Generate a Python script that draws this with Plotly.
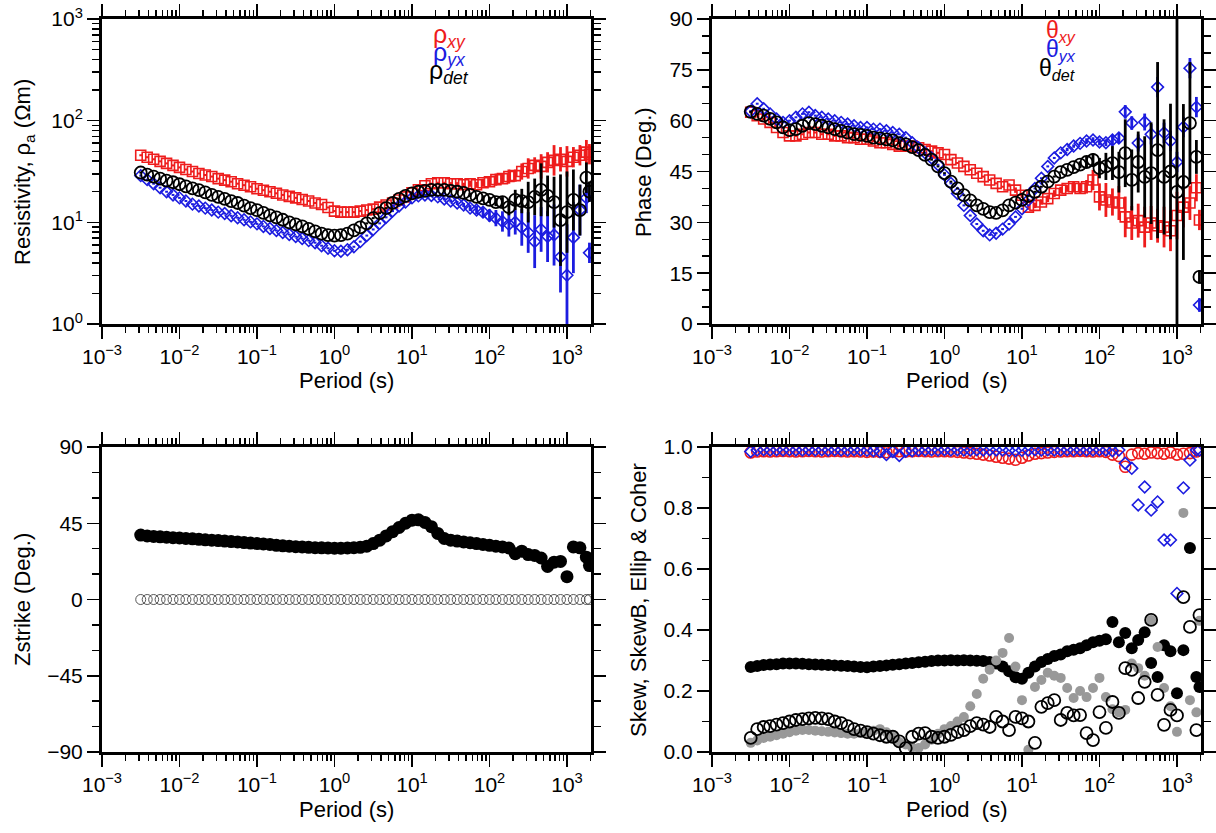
import plotly.graph_objects as go

# ---------------- data ----------------
PERIOD = [0.00316, 0.00383, 0.00464, 0.00562, 0.00681, 0.00825, 0.0100, 0.0121, 0.0147, 0.0178,
          0.0215, 0.0261, 0.0316, 0.0383, 0.0464, 0.0562, 0.0681, 0.0825, 0.100, 0.121,
          0.147, 0.178, 0.215, 0.261, 0.316, 0.383, 0.464, 0.562, 0.681, 0.825,
          1.00, 1.21, 1.47, 1.78, 2.15, 2.61, 3.16, 3.83, 4.64, 5.62,
          6.81, 8.25, 10.0, 12.1, 14.7, 17.8, 21.5, 26.1, 31.6, 38.3,
          46.4, 56.2, 68.1, 82.5, 100, 121, 147, 178, 215, 261,
          316, 383, 464, 562, 681, 825, 1000, 1210, 1470, 1780,
          1950]

RHO_XY = [45.7, 43.7, 41.7, 39.8, 38.0, 36.3, 34.7, 33.1, 31.6, 30.2,
          29.2, 28.2, 26.9, 26.0, 25.1, 24.0, 23.2, 22.4, 21.4, 20.7,
          20.0, 19.3, 18.6, 18.0, 17.4, 16.8, 16.2, 15.5, 15.0, 14.0,
          12.9, 12.6, 12.6, 12.6, 12.9, 13.2, 13.5, 14.1, 14.8, 15.5,
          16.6, 17.8, 19.5, 20.9, 22.9, 24.0, 24.5, 24.5, 24.0, 24.0,
          23.4, 24.0, 23.4, 24.5, 25.1, 26.3, 26.9, 28.2, 28.8, 31.6,
          33.9, 36.3, 35.5, 38.9, 40.7, 41.7, 39.8, 43.7, 45.7, 49.0,
          46.8]
RHO_XY_ERR = [0.01, 0.01, 0.01, 0.01, 0.01, 0.01, 0.01, 0.01, 0.01, 0.01,
              0.01, 0.01, 0.01, 0.01, 0.01, 0.01, 0.01, 0.01, 0.01, 0.01,
              0.01, 0.01, 0.01, 0.01, 0.01, 0.01, 0.01, 0.01, 0.01, 0.01,
              0.01, 0.01, 0.01, 0.01, 0.01, 0.01, 0.01, 0.01, 0.01, 0.01,
              0.01, 0.01, 0.01, 0.01, 0.01, 0.01, 0.01, 0.01, 0.015, 0.015,
              0.02, 0.03, 0.03, 0.04, 0.05, 0.06, 0.05, 0.07, 0.06, 0.08,
              0.10, 0.08, 0.12, 0.10, 0.15, 0.12, 0.15, 0.10, 0.10, 0.12,
              0.10]

RHO_YX = [28.8, 26.3, 24.0, 21.9, 20.0, 18.6, 17.4, 16.2, 15.1, 14.5,
          13.8, 13.2, 12.6, 12.2, 11.6, 11.1, 10.6, 10.1, 9.66, 9.12,
          8.71, 8.32, 7.94, 7.59, 7.24, 6.92, 6.61, 6.31, 5.89, 5.56,
          5.25, 5.19, 5.37, 5.75, 6.46, 7.41, 8.51, 9.77, 11.2, 12.9,
          14.5, 15.8, 17.4, 18.2, 18.6, 18.4, 17.8, 17.0, 16.2, 15.5,
          14.8, 13.8, 13.2, 12.6, 11.7, 11.0, 10.2, 9.55, 10.0, 8.91,
          7.94, 6.46, 8.51, 7.24, 7.50, 4.57, 3.02, 7.08, 13.2, 17.4,
          5.01]
RHO_YX_ERR = [0.01, 0.01, 0.01, 0.01, 0.01, 0.01, 0.01, 0.01, 0.01, 0.01,
              0.01, 0.01, 0.01, 0.01, 0.01, 0.01, 0.01, 0.01, 0.01, 0.01,
              0.01, 0.01, 0.01, 0.01, 0.01, 0.01, 0.01, 0.01, 0.01, 0.01,
              0.01, 0.01, 0.01, 0.01, 0.01, 0.01, 0.01, 0.01, 0.01, 0.01,
              0.01, 0.01, 0.01, 0.01, 0.01, 0.01, 0.01, 0.015, 0.015, 0.02,
              0.02, 0.03, 0.04, 0.05, 0.06, 0.08, 0.10, 0.12, 0.12, 0.18,
              0.20, 0.26, 0.22, 0.25, 0.30, 0.35, 0.50, 0.35, 0.25, 0.15,
              0.10]

RHO_DET = [30.9, 29.5, 28.2, 26.9, 25.7, 24.8, 23.7, 22.6, 21.6, 20.7,
           19.7, 18.6, 17.8, 17.0, 16.2, 15.5, 14.6, 13.8, 13.2, 12.4,
           11.7, 11.2, 10.6, 10.0, 9.55, 9.12, 8.61, 8.13, 7.76, 7.50,
           7.41, 7.50, 7.76, 8.32, 8.91, 9.77, 11.0, 12.3, 13.8, 15.5,
           17.0, 18.2, 19.3, 20.0, 20.4, 20.9, 20.9, 20.9, 20.4, 20.0,
           19.5, 18.6, 17.8, 17.2, 16.6, 15.8, 15.8, 14.1, 16.6, 16.2,
           15.8, 17.8, 20.9, 18.2, 15.8, 10.5, 12.6, 16.6, 13.2, 27.5,
           20.0]
RHO_DET_ERR = [0.01, 0.01, 0.01, 0.01, 0.01, 0.01, 0.01, 0.01, 0.01, 0.01,
               0.01, 0.01, 0.01, 0.01, 0.01, 0.01, 0.01, 0.01, 0.01, 0.01,
               0.01, 0.01, 0.01, 0.01, 0.01, 0.01, 0.01, 0.01, 0.01, 0.01,
               0.01, 0.01, 0.01, 0.01, 0.01, 0.01, 0.01, 0.01, 0.01, 0.01,
               0.01, 0.01, 0.01, 0.01, 0.01, 0.01, 0.01, 0.01, 0.01, 0.01,
               0.015, 0.02, 0.02, 0.03, 0.03, 0.04, 0.05, 0.08, 0.10, 0.12,
               0.20, 0.18, 0.26, 0.20, 0.25, 0.45, 0.40, 0.30, 0.25, 0.15,
               0.10]

PHASE_XY = [62.5, 61.5, 60.5, 59.5, 58.0, 56.5, 55.5, 55.5, 56.0, 56.5,
            56.5, 56.0, 56.0, 55.5, 55.5, 55.0, 55.0, 54.5, 54.5, 54.0,
            53.5, 53.5, 53.0, 52.5, 52.5, 52.5, 52.0, 51.5, 51.0, 50.5,
            50.0, 48.5, 47.5, 46.5, 45.5, 44.5, 43.5, 42.5, 41.5, 40.5,
            41.0, 39.5, 38.0, 34.5, 35.0, 36.0, 37.0, 38.5, 39.5, 40.0,
            40.5, 40.0, 40.5, 42.5, 37.5, 36.6, 36.0, 35.7, 31.6, 29.8,
            30.5, 28.6, 29.8, 29.0, 28.6, 27.5, 32.0, 34.5, 35.7, 40.2,
            30.7]
PHASE_XY_ERR = [0.3, 0.3, 0.3, 0.3, 0.3, 0.3, 0.3, 0.3, 0.3, 0.3,
                0.3, 0.3, 0.3, 0.3, 0.3, 0.3, 0.3, 0.3, 0.3, 0.3,
                0.3, 0.3, 0.3, 0.3, 0.3, 0.3, 0.3, 0.3, 0.3, 0.3,
                0.3, 0.3, 0.3, 0.3, 0.3, 0.3, 0.3, 0.3, 0.3, 0.3,
                0.5, 0.8, 0.8, 0.8, 0.8, 0.8, 1.0, 1.0, 1.0, 1.0,
                1.5, 1.5, 2.0, 3.0, 4.0, 5.0, 4.0, 5.0, 6.0, 5.0,
                5.0, 6.0, 5.0, 5.0, 6.0, 6.0, 7.0, 6.0, 5.0, 4.0,
                3.0]

PHASE_YX = [62.8, 65.0, 63.5, 62.0, 60.5, 59.5, 60.0, 61.0, 62.0, 62.5,
            61.5, 61.0, 60.5, 60.0, 59.5, 59.0, 58.5, 58.0, 58.0, 57.5,
            57.5, 57.0, 56.5, 56.0, 55.0, 53.5, 52.0, 50.5, 49.0, 47.0,
            44.0, 41.5, 38.5, 35.0, 32.0, 29.5, 27.5, 26.3, 26.8, 28.0,
            29.5, 31.6, 34.0, 36.6, 40.0, 43.0, 46.5, 49.0, 50.5, 51.5,
            52.5, 53.3, 54.0, 54.3, 53.7, 53.5, 54.3, 54.9, 62.6, 59.3,
            53.4, 59.6, 56.0, 69.9, 56.4, 54.0, 47.8, 58.1, 75.5, 64.0,
            5.6]
PHASE_YX_ERR = [0.3, 0.3, 0.3, 0.3, 0.3, 0.3, 0.3, 0.3, 0.3, 0.3,
                0.3, 0.3, 0.3, 0.3, 0.3, 0.3, 0.3, 0.3, 0.3, 0.3,
                0.3, 0.3, 0.3, 0.3, 0.3, 0.3, 0.3, 0.3, 0.3, 0.3,
                0.3, 0.3, 0.3, 0.3, 0.3, 0.3, 0.3, 0.3, 0.3, 0.3,
                0.3, 0.3, 0.3, 0.3, 0.3, 0.3, 0.3, 0.3, 0.3, 0.5,
                0.5, 0.5, 0.8, 0.8, 1.0, 1.0, 1.5, 1.5, 2.0, 2.0,
                2.5, 2.5, 3.0, 3.0, 3.0, 3.0, 3.0, 3.0, 3.0, 3.0,
                2.0]

PHASE_DET = [62.6, 62.0, 61.5, 60.5, 59.5, 58.0, 57.2, 57.5, 58.5, 59.3,
             59.0, 58.5, 58.0, 57.5, 57.0, 56.5, 56.0, 55.8, 55.5, 55.0,
             54.8, 54.5, 54.2, 53.4, 53.0, 52.2, 51.3, 49.9, 48.5, 46.5,
             44.5, 42.0, 40.0, 38.0, 36.5, 35.0, 34.0, 33.0, 32.8, 33.5,
             35.0, 35.8, 36.6, 37.8, 39.0, 40.5, 42.0, 43.5, 44.8, 45.5,
             46.3, 47.0, 47.8, 48.4, 46.0, 46.5, 47.5, 44.8, 50.4, 42.5,
             47.8, 43.4, 44.5, 51.3, 43.4, 45.0, 39.0, 41.9, 59.3, 49.3,
             13.9]
PHASE_DET_ERR = [0.3, 0.3, 0.3, 0.3, 0.3, 0.3, 0.3, 0.3, 0.3, 0.3,
                 0.3, 0.3, 0.3, 0.3, 0.3, 0.3, 0.3, 0.3, 0.3, 0.3,
                 0.3, 0.3, 0.3, 0.3, 0.3, 0.3, 0.3, 0.3, 0.3, 0.3,
                 0.3, 0.3, 0.3, 0.3, 0.3, 0.3, 0.3, 0.3, 0.3, 0.3,
                 0.3, 0.3, 0.3, 0.3, 0.3, 0.3, 0.3, 0.3, 0.3, 0.5,
                 0.8, 1.0, 1.5, 2.0, 3.0, 4.0, 5.0, 6.0, 10.0, 9.0,
                 9.0, 12.0, 15.0, 26.0, 17.0, 20.0, 120.0, 23.0, 18.0, 5.0,
                 2.0]

ZSTRIKE = [38.0, 37.5, 37.2, 37.0, 36.8, 36.5, 36.3, 36.0, 35.8, 35.5,
           35.2, 35.0, 34.8, 34.5, 34.2, 34.0, 33.6, 33.3, 33.0, 32.8,
           32.5, 32.0, 31.7, 31.5, 31.2, 31.0, 30.8, 30.6, 30.5, 30.4,
           30.3, 30.3, 30.4, 30.6, 30.8, 31.5, 33.0, 35.0, 37.5, 40.0,
           42.5, 45.0, 46.8, 47.0, 45.5, 43.0, 39.0, 36.0, 35.0, 34.5,
           34.0, 33.5, 33.0, 32.5, 32.0, 31.5, 31.0, 30.4, 27.0, 28.5,
           26.5, 26.0, 24.5, 19.5, 22.0, 22.5, 13.5, 31.0, 30.5, 25.0,
           20.0]
ZSTRIKE_REF = [0, 0, 0, 0, 0, 0, 0, 0, 0, 0,
               0, 0, 0, 0, 0, 0, 0, 0, 0, 0,
               0, 0, 0, 0, 0, 0, 0, 0, 0, 0,
               0, 0, 0, 0, 0, 0, 0, 0, 0, 0,
               0, 0, 0, 0, 0, 0, 0, 0, 0, 0,
               0, 0, 0, 0, 0, 0, 0, 0, 0, 0,
               0, 0, 0, 0, 0, 0, 0, 0, 0, 0,
               0]

COH_XY = [0.982, 0.985, 0.986, 0.985, 0.986, 0.987, 0.986, 0.985, 0.986, 0.987,
          0.986, 0.985, 0.986, 0.987, 0.986, 0.985, 0.986, 0.985, 0.984, 0.985,
          0.984, 0.983, 0.985, 0.986, 0.985, 0.986, 0.987, 0.986, 0.985, 0.986,
          0.986, 0.985, 0.984, 0.982, 0.980, 0.978, 0.975, 0.972, 0.968, 0.965,
          0.962, 0.958, 0.965, 0.972, 0.978, 0.980, 0.982, 0.984, 0.985, 0.986,
          0.986, 0.987, 0.986, 0.985, 0.986, 0.984, 0.975, 0.970, 0.935, 0.975,
          0.980, 0.978, 0.982, 0.980, 0.978, 0.982, 0.975, 0.978, 0.980, 0.985,
          0.990]
COH_YX = [0.985, 0.990, 0.991, 0.990, 0.991, 0.990, 0.991, 0.990, 0.990, 0.991,
          0.990, 0.991, 0.990, 0.991, 0.990, 0.990, 0.991, 0.990, 0.989, 0.988,
          0.985, 0.975, 0.985, 0.972, 0.986, 0.988, 0.990, 0.990, 0.991, 0.990,
          0.991, 0.990, 0.991, 0.990, 0.990, 0.991, 0.990, 0.991, 0.990, 0.990,
          0.989, 0.988, 0.989, 0.990, 0.991, 0.990, 0.991, 0.990, 0.990, 0.991,
          0.990, 0.991, 0.990, 0.990, 0.991, 0.990, 0.988, 0.990, 0.947, 0.930,
          0.810, 0.869, 0.793, 0.820, 0.695, 0.695, 0.520, 0.866, 0.957, 0.990,
          0.990]
SKEW = [0.279, 0.282, 0.285, 0.287, 0.288, 0.290, 0.290, 0.290, 0.289, 0.288,
        0.287, 0.286, 0.285, 0.284, 0.283, 0.282, 0.280, 0.279, 0.278, 0.280,
        0.282, 0.284, 0.286, 0.288, 0.290, 0.292, 0.294, 0.296, 0.298, 0.300,
        0.300, 0.301, 0.300, 0.301, 0.300, 0.299, 0.298, 0.295, 0.290, 0.280,
        0.265, 0.245, 0.240, 0.260, 0.280, 0.295, 0.305, 0.315, 0.320, 0.330,
        0.335, 0.340, 0.350, 0.360, 0.365, 0.370, 0.426, 0.360, 0.390, 0.340,
        0.367, 0.393, 0.292, 0.246, 0.350, 0.330, 0.193, 0.334, 0.669, 0.246,
        0.213]
SKEW_B = [0.030, 0.038, 0.046, 0.050, 0.055, 0.060, 0.065, 0.070, 0.072, 0.072,
          0.070, 0.068, 0.066, 0.064, 0.062, 0.060, 0.060, 0.062, 0.065, 0.070,
          0.075, 0.065, 0.050, 0.033, 0.025, 0.015, 0.013, 0.025, 0.040, 0.060,
          0.075, 0.085, 0.100, 0.115, 0.150, 0.190, 0.240, 0.270, 0.300, 0.325,
          0.374, 0.280, 0.170, 0.007, 0.213, 0.236, 0.260, 0.250, 0.243, 0.210,
          0.177, 0.200, 0.180, 0.210, 0.243, 0.180, 0.140, 0.130, 0.138, 0.290,
          0.275, 0.250, 0.433, 0.344, 0.210, 0.150, 0.066, 0.784, 0.170, 0.130,
          0.430]
ELLIP = [0.046, 0.075, 0.082, 0.085, 0.090, 0.095, 0.100, 0.105, 0.108, 0.110,
         0.112, 0.110, 0.108, 0.100, 0.095, 0.085, 0.075, 0.070, 0.065, 0.060,
         0.055, 0.050, 0.050, 0.035, 0.013, 0.050, 0.060, 0.062, 0.050, 0.046,
         0.050, 0.056, 0.065, 0.072, 0.085, 0.095, 0.090, 0.082, 0.115, 0.100,
         0.072, 0.115, 0.110, 0.100, 0.030, 0.148, 0.160, 0.170, 0.105, 0.128,
         0.120, 0.121, 0.062, 0.039, 0.131, 0.079, 0.164, 0.128, 0.275, 0.269,
         0.177, 0.230, 0.433, 0.187, 0.089, 0.138, 0.120, 0.508, 0.410, 0.072,
         0.449]

X_TICKS = [0.001, 0.01, 0.1, 1, 10, 100, 1000]
X_TICKTEXT = ["10<sup>−3</sup>", "10<sup>−2</sup>", "10<sup>−1</sup>", "10<sup>0</sup>",
              "10<sup>1</sup>", "10<sup>2</sup>", "10<sup>3</sup>"]
RHO_TICKS = [1, 10, 100, 1000]
RHO_TICKTEXT = ["10<sup>0</sup>", "10<sup>1</sup>", "10<sup>2</sup>", "10<sup>3</sup>"]

# ---------------- styling ----------------
FONT = "Liberation Sans, Arial, Helvetica, sans-serif"
RED = "#ee1c1c"
BLUE = "#1c1ce0"
GREY = "#999999"
# body margin is removed by the post script below, so the figure fills the window
W, H = 1216, 833


def fx(px):
    return px / W


def fy(py):
    return 1 - py / H


XL = [fx(102), fx(591)]
XR = [fx(712), fx(1201)]
YT = [fy(324), fy(19)]
YB = [fy(752), fy(447)]

X_MINOR = [m * d for d in X_TICKS for m in range(2, 10)]
RHO_MINOR = [m * d for d in RHO_TICKS for m in range(2, 10)]


def log_err(vals, errs):
    plus = [v * (10 ** e - 1) for v, e in zip(vals, errs)]
    minus = [v * (1 - 10 ** (-e)) for v, e in zip(vals, errs)]
    return plus, minus


fig = go.Figure()


def add(x, y, xa, ya, symbol, color, size, lw=1.6, err=None, errm=None, fill=None):
    marker = dict(symbol=symbol, size=size, color=fill if fill else color,
                  line=dict(color=color, width=lw))
    tr = go.Scatter(x=x, y=y, mode="markers", xaxis=xa, yaxis=ya, marker=marker,
                    hoverinfo="skip")
    if err is not None:
        tr.error_y = dict(type="data", symmetric=errm is None, array=err,
                          arrayminus=errm, thickness=2.8, width=0, color=color)
    fig.add_trace(tr)


# top-left: apparent resistivity
p, m = log_err(RHO_XY, RHO_XY_ERR)
add(PERIOD, RHO_XY, "x", "y", "square-open", RED, 10, err=p, errm=m)
p, m = log_err(RHO_YX, RHO_YX_ERR)
add(PERIOD, RHO_YX, "x", "y", "diamond-open", BLUE, 9, err=p, errm=m)
p, m = log_err(RHO_DET, RHO_DET_ERR)
add(PERIOD, RHO_DET, "x", "y", "circle-open", "black", 12, lw=1.8, err=p, errm=m)

# top-right: phase
add(PERIOD, PHASE_XY, "x2", "y2", "square-open", RED, 10, err=PHASE_XY_ERR)
add(PERIOD, PHASE_YX, "x2", "y2", "diamond-open", BLUE, 9, err=PHASE_YX_ERR)
add(PERIOD, PHASE_DET, "x2", "y2", "circle-open", "black", 12, lw=1.8, err=PHASE_DET_ERR)

# bottom-left: strike
add(PERIOD, ZSTRIKE_REF, "x3", "y3", "circle-open", "#444444", 10, lw=0.9)
add(PERIOD, ZSTRIKE, "x3", "y3", "circle", "black", 13, lw=0, fill="black")

# bottom-right: skew, skewB, ellipticity, coherence
add(PERIOD, COH_XY, "x4", "y4", "circle-open", RED, 11, lw=1.6)
add(PERIOD, COH_YX, "x4", "y4", "diamond-open", BLUE, 9, lw=1.6)
add(PERIOD, SKEW, "x4", "y4", "circle", "black", 12, lw=0, fill="black")
add(PERIOD, SKEW_B, "x4", "y4", "circle", GREY, 10, lw=0, fill=GREY)
add(PERIOD, ELLIP, "x4", "y4", "circle-open", "black", 12, lw=1.8)

tickfont = dict(family=FONT, size=21, color="black")
common = dict(showline=True, linewidth=3, linecolor="black", mirror="allticks",
              ticks="outside", ticklen=12, tickwidth=1.5, tickcolor="black",
              showgrid=False, zeroline=False, tickfont=tickfont, fixedrange=True,
              ticklabeloverflow="allow")


def xcfg(domain, anchor):
    d = dict(common)
    d.update(domain=domain, anchor=anchor, type="log", range=[-3, 3.31],
             tickmode="array", tickvals=X_TICKS, ticktext=X_TICKTEXT,
             minor=dict(ticks="outside", ticklen=6, tickwidth=1.5, tickcolor="black",
                        tickmode="array", tickvals=X_MINOR, showgrid=False))
    return d


def ylin(domain, anchor, rng, dtick, mdtick, fmt=None):
    d = dict(common)
    d.update(domain=domain, anchor=anchor, range=rng, tickmode="linear", tick0=0,
             dtick=dtick,
             minor=dict(ticks="outside", ticklen=7, tickwidth=1.5, tickcolor="black",
                        tickmode="linear", tick0=0, dtick=mdtick, showgrid=False))
    if fmt:
        d["tickformat"] = fmt
    return d


yrho = dict(common)
yrho.update(domain=YT, anchor="x", type="log", range=[0, 3], tickmode="array",
            tickvals=RHO_TICKS, ticktext=RHO_TICKTEXT,
            minor=dict(ticks="outside", ticklen=7, tickwidth=1.5, tickcolor="black",
                       tickmode="array", tickvals=RHO_MINOR, showgrid=False))

fig.update_layout(
    width=W, height=H, margin=dict(l=0, r=0, t=0, b=0, autoexpand=False),
    paper_bgcolor="white", plot_bgcolor="white", showlegend=False,
    font=dict(family=FONT, size=21, color="black"),
    xaxis=xcfg(XL, "y"), yaxis=yrho,
    xaxis2=xcfg(XR, "y2"), yaxis2=ylin(YT, "x2", [0, 90], 15, 5),
    xaxis3=xcfg(XL, "y3"), yaxis3=ylin(YB, "x3", [-90, 90], 45, 15),
    xaxis4=xcfg(XR, "y4"), yaxis4=ylin(YB, "x4", [0, 1], 0.2, 0.1, ".1f"),
)

ann = []


def text(x, y, s, size=22, color="black", angle=0, xanchor="center"):
    ann.append(dict(x=fx(x), y=fy(y), xref="paper", yref="paper", text=s,
                    showarrow=False, textangle=angle, xanchor=xanchor, yanchor="middle",
                    font=dict(family=FONT, size=size, color=color)))


# axis titles
text(24, 172, "Resistivity, ρ<sub>a</sub> (Ωm)", angle=-90)
text(643, 172, "Phase (Deg.)", angle=-90)
text(22, 600, "Zstrike (Deg.)", angle=-90)
text(638, 600, "Skew, SkewB, Ellip &amp; Coher", angle=-90)
text(346, 380, "Period (s)")
text(956, 380, "Period  (s)")
text(346, 809, "Period (s)")
text(956, 809, "Period  (s)")

# in-plot legends
text(431, 36, "ρ<sub><i>xy</i></sub>", size=25, color=RED, xanchor="left")
text(431, 54, "ρ<sub><i>yx</i></sub>", size=25, color=BLUE, xanchor="left")
text(427, 72, "ρ<sub><i>det</i></sub>", size=25, color="black", xanchor="left")
text(1044, 32, "θ<sub><i>xy</i></sub>", size=23, color=RED, xanchor="left")
text(1044, 50, "θ<sub><i>yx</i></sub>", size=23, color=BLUE, xanchor="left")
text(1037, 69, "θ<sub><i>det</i></sub>", size=23, color="black", xanchor="left")

fig.update_layout(annotations=ann)

fig.write_html(
    "out.html",
    config={"displayModeBar": False, "staticPlot": True},
    post_script="document.body.style.margin='0';document.body.style.overflow='hidden';",
)
